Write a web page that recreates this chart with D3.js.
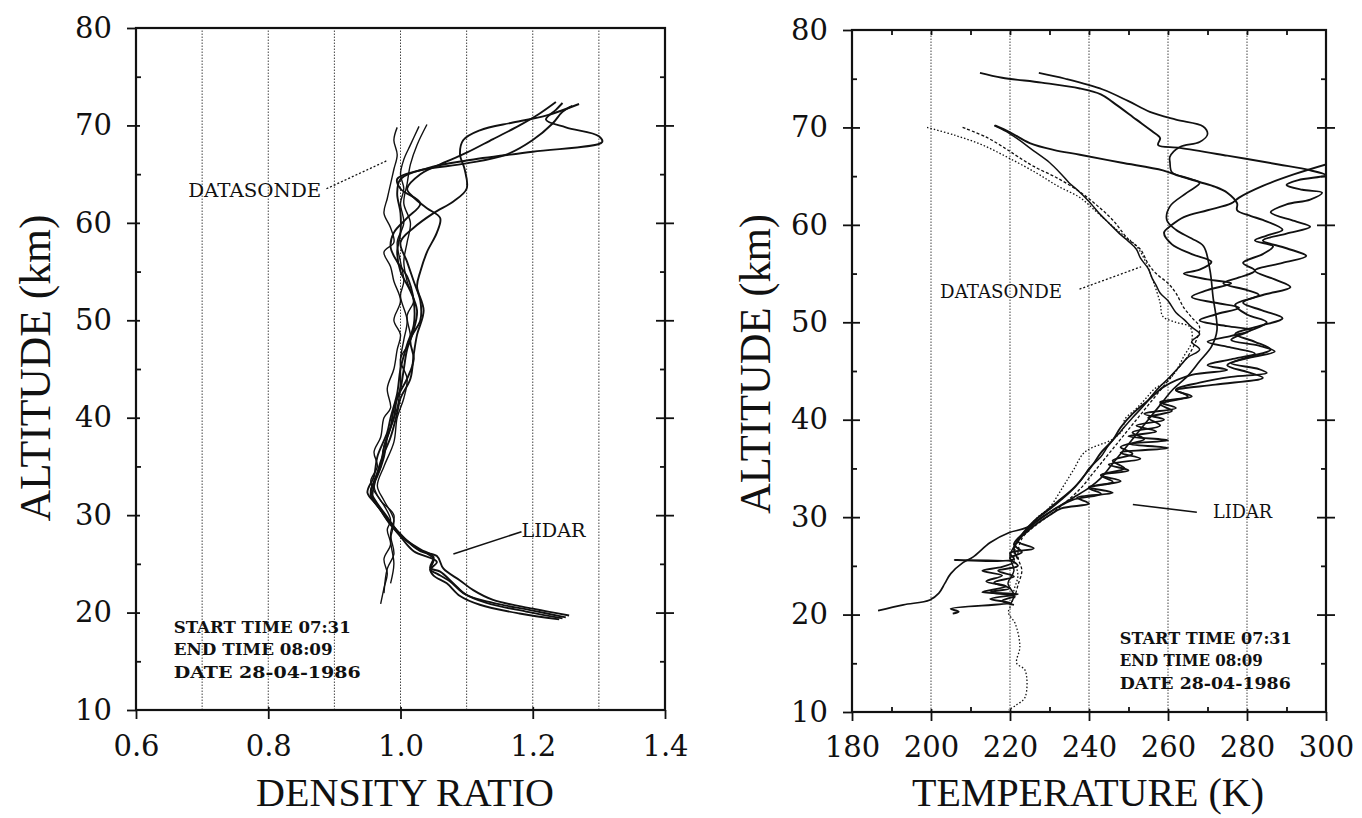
<!DOCTYPE html>
<html>
<head>
<meta charset="utf-8">
<script src="https://cdn.jsdelivr.net/npm/d3@7"></script>
<style>
body { margin: 0; background: #fff; }
svg { display: block; }
</style>
</head>
<body>
<svg id="chart" width="1362" height="818"></svg>
<script>
// ---- axis values ----
var altTicks = [10, 20, 30, 40, 50, 60, 70, 80];
var altMinor = [15, 25, 35, 45, 55, 65, 75];
var densityTicks = [0.6, 0.8, 1.0, 1.2, 1.4];
var densityGrid = [0.7, 0.8, 0.9, 1.0, 1.1, 1.2, 1.3];
var tempTicks = [180, 200, 220, 240, 260, 280, 300];
var tempMinor = [190, 210, 230, 250, 270, 290];
var tempGrid = [200, 220, 240, 260, 280];

// ---- density ratio profiles [ratio, altitude km] ----
var lidarDensity1 = [[1.25,19.5],[1.2,20.2],[1.14,21],[1.1,21.8],[1.08,23],[1.06,24.2],[1.045,24.6],[1.05,25.7],[1.03,26.5],[1.005,27.6],[0.985,29],[0.97,30.5],[0.955,32],[0.96,33.5],[0.97,35],[0.975,37],[0.985,39],[0.99,41],[1.0,43],[1.005,45],[1.01,47],[1.02,49],[1.025,51],[1.015,53],[1.0,55],[0.995,57],[1.0,59],[1.0,61],[0.995,63],[1.0,64.5],[1.04,65.6],[1.1,66.4],[1.2,67.3],[1.305,68.3],[1.3,68.9],[1.25,69.8],[1.22,70.6],[1.235,71.6],[1.245,72.3]];
var lidarDensity2 = [[1.245,19.4],[1.19,20.1],[1.13,21],[1.095,22],[1.075,23.2],[1.055,24],[1.045,24.4],[1.05,25.5],[1.02,26.8],[0.995,28.4],[0.98,29.8],[0.962,31.5],[0.955,32.5],[0.965,34],[0.975,36],[0.98,38],[0.99,40],[0.995,42],[1.01,44],[1.02,46],[1.015,48],[1.03,50],[1.03,52],[1.02,54],[1.01,56],[1.0,58],[1.02,59.5],[1.05,61],[1.08,62.2],[1.1,63.5],[1.097,65.5],[1.09,67],[1.095,68.5],[1.12,69.5],[1.17,70.3],[1.22,71],[1.27,72.2]];
var lidarDensity3 = [[1.255,19.7],[1.2,20.4],[1.14,21.3],[1.11,22.3],[1.09,23.3],[1.065,24.5],[1.055,25.8],[1.03,26.3],[1.0,28],[0.98,29.7],[0.958,31.8],[0.96,33],[0.97,35.5],[0.985,38],[0.995,40.5],[1.0,42],[1.015,44],[1.02,46.5],[1.025,48.5],[1.035,51],[1.025,53.5],[1.03,55],[1.04,57],[1.055,59],[1.06,60.5],[1.04,61.5],[1.02,62.6],[1.01,63.5],[1.03,65],[1.07,66.3],[1.1,67.2],[1.14,68.6],[1.18,70],[1.21,71.2],[1.235,72.4]];
var lidarDensity4 = [[1.24,19.3],[1.18,19.9],[1.12,20.8],[1.09,21.7],[1.07,23],[1.05,23.8],[1.045,24.4],[1.055,25.2],[1.02,26.3],[1.0,27.8],[0.98,29.5],[0.965,31],[0.95,32.3],[0.96,34],[0.965,36],[0.98,38.5],[0.985,40],[0.995,42.5],[1.0,45],[1.01,47.5],[1.02,49.5],[1.02,52],[1.01,54.5],[0.995,56],[0.985,57.5],[0.99,59],[1.01,60.5],[1.03,62],[1.0,63.5],[0.995,64.5],[1.03,65.4],[1.1,66.1],[1.16,67],[1.2,68.5],[1.23,70.2],[1.245,71.4],[1.26,72]];
var sondeDensity1 = [[0.97,20.9],[0.975,22.5],[0.98,24],[0.975,25.5],[0.985,27],[0.98,28.5],[0.985,29.5],[0.975,31],[0.96,32.5],[0.955,33.5],[0.965,35],[0.96,36.5],[0.97,38],[0.975,40],[0.985,41],[0.98,43],[0.99,45],[0.995,47],[1.0,48.5],[0.99,50],[1.0,52],[0.99,54],[0.985,55.5],[0.975,57],[0.99,58],[0.985,59.5],[0.975,61],[0.98,62.5],[0.985,64],[0.99,65.5],[0.995,67],[0.99,68.5],[0.995,69.8]];
var sondeDensity2 = [[0.975,22],[0.98,24.5],[0.99,26],[0.985,28],[0.99,30],[0.97,31.5],[0.96,33],[0.97,35],[0.975,37],[0.985,39],[0.995,41],[1.0,43.5],[1.0,46],[1.005,48],[1.01,50],[1.0,52.5],[1.005,54],[1.0,56],[0.995,58],[1.005,60],[1.0,62],[1.005,63.5],[1.0,65],[1.005,66.5],[1.015,68],[1.028,69.9]];
var sondeDensity3 = [[0.985,23],[0.99,25],[0.985,27.5],[0.99,29.5],[0.975,31.5],[0.965,33],[0.975,35],[0.99,37.5],[0.995,40],[1.005,42],[1.01,44],[1.0,46],[1.015,48],[1.01,50.5],[1.02,52],[1.01,54],[1.005,56],[1.01,58],[1.015,60],[1.005,62],[1.01,64],[1.015,66],[1.025,68],[1.04,70.1]];

// ---- temperature profiles [K, altitude km] ----
var lidarTemp1 = [[212.4,75.6],[218,75.1],[228,74.6],[237.7,74.0],[243,73.4],[246,72.6],[252,70.8],[256,69.6],[258,68.9],[257.5,68.2],[263,67.9],[275,67.1],[288,66.2],[296,65.6],[300,65.1],[293,64.6],[290,64.1],[294,63.6],[299,63.3],[296,62.6],[290,62.1],[286,61.3],[292,60.4],[296,59.8],[290,59.1],[284,58.4],[290,57.6],[295,56.8],[289,56.1],[282,55.3],[287,54.4],[291,53.6],[284,52.8],[279,52.0],[284,51.2],[289,50.4],[283,49.6],[277,48.8],[282,48.0],[286,47.2],[280,46.4],[275,45.6],[280,44.9],[284,44.3],[272,43.6],[262,43.0],[266,42.4],[258,41.8],[262,41.2],[254,40.6],[259,40.0],[252,39.4],[257,38.8],[250,38.3],[260,37.9],[250,37.5],[260,37.1],[248,36.6],[253,36.0],[245,35.4],[250,34.8],[243,34.3],[248,33.7],[240,33.1],[246,32.5],[237,32.0],[240,31.4],[233,30.9],[230,30.2],[227,29.4],[224,28.4],[222,27.5],[226,26.8],[220,26.3],[221,25.7],[206,25.6],[221,25.4],[218,24.9],[213,24.5],[218,24.0],[214,23.4],[219,22.9],[213,22.3],[222,22.1],[215,21.6],[220,21.2],[205,20.6],[207,20.3],[205.5,20.1]];
var lidarTemp2 = [[227.3,75.6],[234,75.0],[243.5,73.9],[250,72.7],[255.4,71.6],[262,70.8],[268.9,70.1],[270,69.3],[268,68.5],[263,68.0],[260.5,67.0],[260.5,66.4],[261,65.4],[265,64.8],[268,64.3],[264.8,63.3],[260.5,61.9],[259.7,60.5],[262,59.5],[266,58.6],[269,57.8],[270.6,55.4],[271.4,52.6],[272.4,49.2],[271,47.5],[268,46],[265,44.5],[261,43],[258,41.5],[255,40],[252,38.5],[249,37],[246,35.5],[243,34],[240,33],[236,32],[232,31],[228,30],[224,28.9],[219.7,28.4],[215,27.4],[210.6,25.9],[208,25.3],[205,24.2],[203.5,23.2],[202,22.2],[199.7,21.5],[193,21],[186.6,20.4]];
var lidarTemp3 = [[216.2,70.2],[220,69.5],[225,68.4],[231,67.7],[237.7,67.2],[248,66.4],[258.7,65.6],[263,65.0],[268,64.4],[272,63.9],[275,63.3],[277.5,62.2],[277.5,61.5],[281,60.9],[284,60.5],[289,59.5],[285,58.9],[282,58.4],[286.6,57.8],[284,57.0],[279,56.1],[282,55.3],[278,54.6],[274,54.0],[280,53.3],[283,52.8],[277,51.8],[280,50.8],[285,50.0],[280,49.0],[276,48.2],[283,47.6],[287,47.0],[281,46.4],[276,45.8],[283,45.2],[285,44.8],[276,44.4],[268,43.8],[262,43.1],[265,42.4],[258,41.6],[261,40.9],[255,40.2],[258,39.4],[251,38.7],[254,38.0],[248,37.2],[251,36.5],[246,35.8],[249,35.0],[243,34.3],[246,33.6],[240,33.0],[243,32.4],[236,31.8],[232,31.0],[229,30.2],[226,29.3],[223,28.2],[221,27.2],[223,26.4],[220,25.8],[222,25.0],[217,24.5],[221,23.9],[216,23.3],[220,22.7],[215,22.3],[221,21.9],[218,21.4],[221,21.0]];
var lidarTemp4 = [[216,70.2],[219,69.6],[222,68.8],[226,67.6],[230,66.4],[233,65.2],[235,64.3],[237,63.6],[240,62.4],[243,61.0],[245,60.2],[248,59.0],[250,58.3],[252,57.5],[253,56.6],[255,55.5],[256,54.5],[257,53.8],[258,53.0],[260,52.2],[262,51.0],[264,50.3],[266,49.5],[268,48.8],[266,48],[268,47.2],[265,46.4],[263,45.5],[260,44.2],[257,43],[254,41.5],[251,40.2],[248,38.8],[245,37.4],[243,36.2],[240,35],[238,33.8],[235,32.6],[232,31.6],[229,30.6],[226,29.6],[223.5,28.5],[221.5,27.3],[220,26],[221,24.5],[219.5,23.2],[221,22],[220,21]];
var lidarTemp5 = [[300,66.2],[292,65.2],[284,64],[278,62.8],[276,62.2],[270,61.5],[264,60.8],[261,60.0],[259,59.2],[261,58.0],[266,57.0],[271,56.2],[268,55.4],[264,55.0],[270,54.4],[276,54.0],[270,53.3],[266,52.6],[272,52.0],[278,51.5],[272,50.8],[268,50.2],[275,49.6],[281,49.2],[276,48.6],[270,48.0],[276,47.4],[282,46.8],[276,46.2],[270,45.6],[275,45.1],[266,44.6],[259,43.4],[255,42],[251,40.6],[248,39.2],[246,37.9],[243,36.6],[241,35.4],[238.5,34.1],[236,32.9],[233,31.8],[230,30.8],[227,29.9],[224.5,28.8],[222.5,27.8],[221,26.8],[222,25.7]];
var sondeTemp1 = [[199,70],[206,69.2],[213,68.2],[220,66.8],[226.8,65.3],[232,64],[237.7,62.8],[242,61.3],[247,59.5],[252,57.8],[254,56.5],[256,54.5],[258,52],[258.7,50.6],[262,50],[265.6,49.5],[266,48],[264,46.5],[262,45],[260,44],[256.7,43.2],[254,42],[251.6,41],[249,40],[248.6,39],[246,38],[239,36.7],[236,34.8],[233.4,33.1],[230,31],[227,30],[224,28.5],[222,27.5],[221,26],[222,24],[221,22.5],[220.5,21.2],[219.6,20.2],[221.3,19.1],[222.5,16.7],[221.7,15],[223.8,14.3],[223.8,11.5],[221.5,10.7],[219.6,10.2]];
var sondeTemp2 = [[208,70],[214,69],[219,67.8],[222,67],[226,66],[232,64.8],[238,63.3],[242,62],[246,60.5],[250,58.5],[253,57.5],[255,56],[257,55],[260,54],[262,53],[264,51.5],[266,50.5],[268,49.5],[267,48],[265,46.5],[262,45],[259,43.5],[256,42],[253,40.5],[250,39],[247,37.5],[244,36],[241,34.5],[238,33],[234,31.5],[230,30.2],[226,29],[223,27.8],[222,26],[223,24.5],[222,23],[221,21.5]];

var svg = d3.select("#chart");
var serif = "DejaVu Serif, serif";
var titleFont = "Liberation Serif, serif";

function drawPanel(p) {
  var x = d3.scaleLinear().domain(p.xDomain).range(p.xRange);
  var y = d3.scaleLinear().domain([10, 80]).range(p.yRange);
  var g = svg.append("g");

  svg.append("clipPath").attr("id", p.id + "-clip")
    .append("rect")
      .attr("x", p.xRange[0]).attr("y", p.yRange[1])
      .attr("width", p.xRange[1] - p.xRange[0])
      .attr("height", p.yRange[0] - p.yRange[1]);

  // dotted vertical grid
  g.selectAll(".grid").data(p.grid).enter().append("line")
    .attr("x1", function(d) { return x(d); })
    .attr("x2", function(d) { return x(d); })
    .attr("y1", y(10)).attr("y2", y(80))
    .attr("stroke", "#444").attr("stroke-width", 1)
    .attr("stroke-dasharray", "1.5,1.5");

  // profiles
  var line = d3.line()
    .x(function(d) { return x(d[0]); })
    .y(function(d) { return y(d[1]); })
    .curve(d3.curveCatmullRom.alpha(0.5));
  var plot = g.append("g").attr("clip-path", "url(#" + p.id + "-clip)");
  p.series.forEach(function(s) {
    plot.append("path").datum(s.values)
      .attr("d", line)
      .attr("fill", "none")
      .attr("stroke", "#111")
      .attr("stroke-width", s.width)
      .attr("stroke-linejoin", "round")
      .attr("stroke-dasharray", s.dash || null);
  });

  // frame
  g.append("rect")
    .attr("x", p.xRange[0]).attr("y", p.yRange[1])
    .attr("width", p.xRange[1] - p.xRange[0])
    .attr("height", p.yRange[0] - p.yRange[1])
    .attr("fill", "none").attr("stroke", "#111").attr("stroke-width", 2.2);

  function axis(gen, tx, ty) {
    var a = g.append("g").attr("transform", "translate(" + tx + "," + ty + ")").call(gen);
    a.select(".domain").remove();
    a.selectAll("line").attr("stroke", "#111").attr("stroke-width", 1.8);
    a.selectAll("text").attr("font-family", serif).attr("font-size", 29).attr("fill", "#111");
    return a;
  }
  var x0 = p.xRange[0], x1 = p.xRange[1], yb = p.yRange[0], yt = p.yRange[1];

  // left axis: labels, crossing major ticks, inward minor ticks
  axis(d3.axisLeft(y).tickValues(altTicks).tickSize(9).tickPadding(15).tickFormat(d3.format("d")), x0, 0);
  axis(d3.axisRight(y).tickValues(altTicks.slice(1, -1)).tickSize(p.crossLeft).tickFormat(""), x0, 0);
  axis(d3.axisRight(y).tickValues(altMinor).tickSize(5).tickFormat(""), x0, 0);
  // right axis
  axis(d3.axisRight(y).tickValues(altTicks.slice(1, -1)).tickSize(9).tickFormat(""), x1, 0);
  axis(d3.axisLeft(y).tickValues(altTicks.slice(1, -1)).tickSize(9).tickFormat(""), x1, 0);
  axis(d3.axisLeft(y).tickValues(altMinor).tickSize(5).tickFormat(""), x1, 0);
  // bottom axis
  axis(d3.axisBottom(x).tickValues(p.ticks).tickSize(9).tickPadding(p.padBottom).tickFormat(p.format), 0, yb);
  axis(d3.axisTop(x).tickValues(p.ticks.slice(1, -1)).tickSize(3).tickFormat(""), 0, yb);
  if (p.minor) {
    axis(d3.axisTop(x).tickValues(p.minor).tickSize(5).tickFormat(""), 0, yb);
    axis(d3.axisBottom(x).tickValues(p.minor.concat(p.ticks.slice(1, -1))).tickSize(5).tickFormat(""), 0, yt);
  }

  // axis titles
  g.append("text")
    .attr("x", p.xTitle.cx).attr("y", p.xTitle.base)
    .attr("text-anchor", "middle")
    .attr("font-family", titleFont).attr("font-size", 39)
    .attr("textLength", p.xTitle.len).attr("lengthAdjust", "spacingAndGlyphs")
    .attr("fill", "#111").text(p.xTitle.text);
  g.append("text")
    .attr("transform", "translate(" + p.yTitle.base + "," + p.yTitle.cy + ") rotate(-90)")
    .attr("text-anchor", "middle")
    .attr("font-family", titleFont).attr("font-size", 44)
    .attr("textLength", p.yTitle.len).attr("lengthAdjust", "spacingAndGlyphs")
    .attr("fill", "#111").text("ALTITUDE (km)");

  // annotations
  function label(t, vx, alt, len, size, weight) {
    g.append("text")
      .attr("x", x(vx)).attr("y", y(alt))
      .attr("font-family", serif).attr("font-size", size)
      .attr("font-weight", weight || "normal")
      .attr("textLength", len).attr("lengthAdjust", "spacingAndGlyphs")
      .attr("fill", "#111").text(t);
  }
  function leader(a, b, dash) {
    g.append("line")
      .attr("x1", x(a[0])).attr("y1", y(a[1]))
      .attr("x2", x(b[0])).attr("y2", y(b[1]))
      .attr("stroke", "#111").attr("stroke-width", dash ? 1.3 : 1.6)
      .attr("stroke-dasharray", dash || null);
  }
  var n = p.notes;
  label("DATASONDE", n.sonde[0], n.sonde[1], n.sonde[2], 19);
  leader(n.sondeLead[0], n.sondeLead[1], "2,2");
  label("LIDAR", n.lidar[0], n.lidar[1], n.lidar[2], 19);
  leader(n.lidarLead[0], n.lidarLead[1], null);
  label("START TIME 07:31", n.info[0], n.info[1], n.info[3], 17, "bold");
  label("END TIME 08:09", n.info[0], n.info[1] - 2.3, n.info[4], 17, "bold");
  label("DATE 28-04-1986", n.info[0], n.info[1] - 4.6, n.info[5], 17, "bold");
}

drawPanel({
  id: "density",
  xDomain: [0.6, 1.4], xRange: [136, 665], yRange: [710, 28],
  grid: densityGrid, ticks: densityTicks, format: d3.format(".1f"),
  padBottom: 16, crossLeft: 4,
  series: [
    { values: lidarDensity1, width: 1.9 },
    { values: lidarDensity2, width: 1.9 },
    { values: lidarDensity3, width: 1.9 },
    { values: lidarDensity4, width: 1.9 },
    { values: sondeDensity1, width: 1.4 },
    { values: sondeDensity2, width: 1.4 },
    { values: sondeDensity3, width: 1.4 }
  ],
  xTitle: { text: "DENSITY RATIO", cx: 405, base: 806, len: 298 },
  yTitle: { base: 50, cy: 368, len: 307 },
  notes: {
    sonde: [0.679, 62.7, 133], sondeLead: [[0.888, 63.5], [0.98, 66.4]],
    lidar: [1.183, 27.8, 64], lidarLead: [[1.183, 28.3], [1.08, 26.0]],
    info: [0.657, 17.9, 0, 177, 159, 187]
  }
});

drawPanel({
  id: "temperature",
  xDomain: [180, 300], xRange: [852, 1326], yRange: [712, 30],
  grid: tempGrid, ticks: tempTicks, minor: tempMinor, format: d3.format("d"),
  padBottom: 15, crossLeft: 8,
  series: [
    { values: lidarTemp1, width: 1.9 },
    { values: lidarTemp2, width: 1.7 },
    { values: lidarTemp3, width: 1.9 },
    { values: lidarTemp4, width: 1.5 },
    { values: lidarTemp5, width: 1.9 },
    { values: sondeTemp1, width: 1.3, dash: "1.5,2" },
    { values: sondeTemp2, width: 1.3, dash: "3,2" }
  ],
  xTitle: { text: "TEMPERATURE (K)", cx: 1088, base: 806, len: 352 },
  yTitle: { base: 770, cy: 364, len: 300 },
  notes: {
    sonde: [202.3, 52.5, 122], sondeLead: [[237.6, 53.4], [253.2, 55.7]],
    lidar: [271.4, 29.9, 59], lidarLead: [[251.1, 31.3], [267.3, 30.5]],
    info: [247.8, 17.0, 0, 172, 143, 171]
  }
});
</script>
</body>
</html>
